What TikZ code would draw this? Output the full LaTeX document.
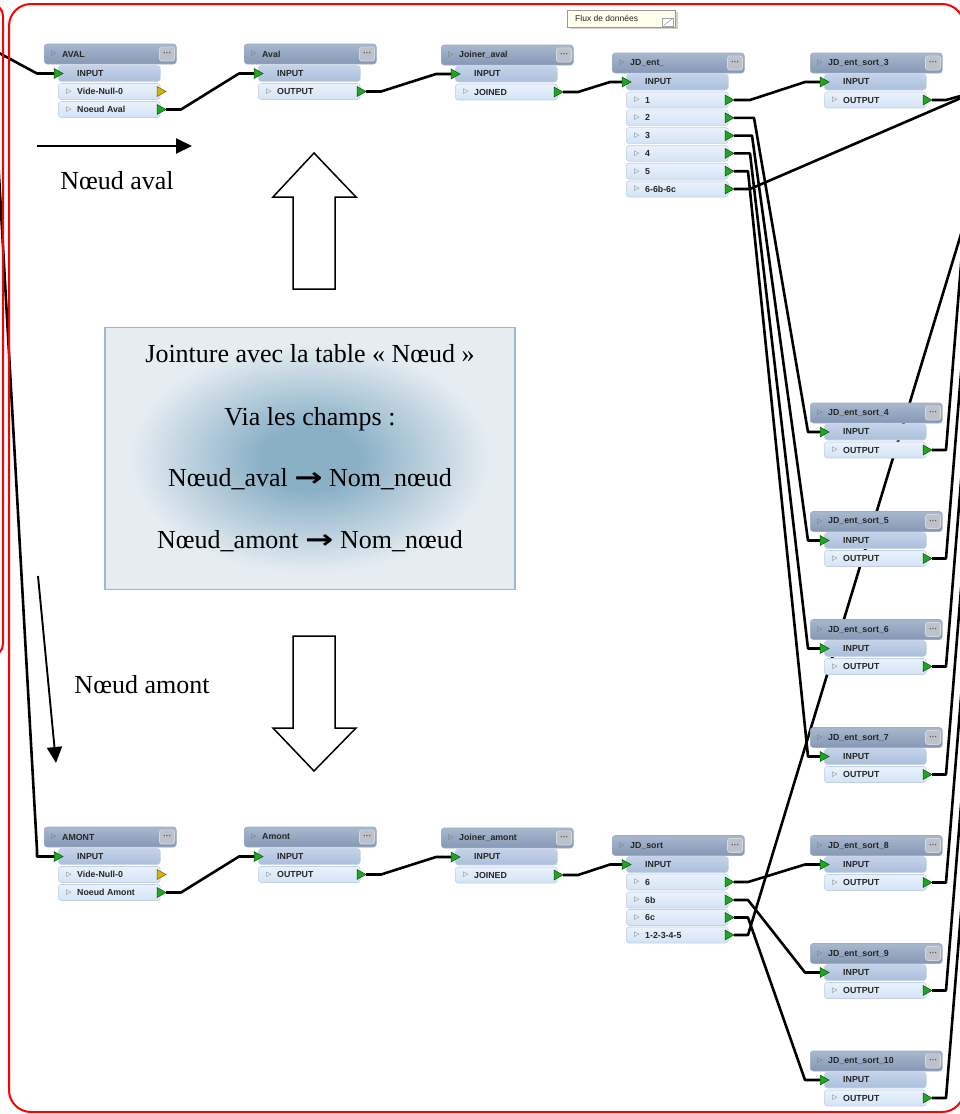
\documentclass[tikz,border=0pt]{standalone}
\usepackage{fontspec}
\setmainfont{Liberation Serif}
\newfontfamily\uisans{Liberation Sans}
\newfontfamily\djv{DejaVu Sans}
\usetikzlibrary{arrows.meta,calc}

\definecolor{hdrtop}{HTML}{A7B8CE}
\definecolor{hdrbot}{HTML}{8598B4}
\definecolor{hdrline}{HTML}{9DACC2}
\definecolor{intop}{HTML}{C3D3E9}
\definecolor{inbot}{HTML}{ABBFDB}
\definecolor{inline}{HTML}{C8D5E6}
\definecolor{outtop}{HTML}{EAF2FC}
\definecolor{outbot}{HTML}{D3E3F5}
\definecolor{rowline}{HTML}{C3D1E2}
\definecolor{dotsfill}{HTML}{BCC1CA}
\definecolor{dotsline}{HTML}{D5D9DF}
\definecolor{dotstxt}{HTML}{5A5F68}
\definecolor{portg}{HTML}{1FA81F}
\definecolor{portgd}{HTML}{0E4F0E}
\definecolor{porty}{HTML}{D0B800}
\definecolor{portyd}{HTML}{6B5E00}
\definecolor{glowc}{HTML}{8AB0C6}
\definecolor{glowe}{HTML}{E6EDF2}
\definecolor{boxline}{HTML}{9CBACE}
\definecolor{fluxfill}{HTML}{FFFFEC}
\definecolor{redline}{HTML}{FF0000}

\pgfdeclareradialshading{glow}{\pgfpoint{0bp}{0bp}}{color(0bp)=(glowc); color(6bp)=(glowc); color(22bp)=(glowe); color(50bp)=(glowe)}

\tikzset{
 hdr/.style={rectangle, rounded corners=3pt, minimum width=132pt, minimum height=20pt, inner sep=0pt, top color=hdrtop, bottom color=hdrbot, draw=hdrline, line width=0.6pt},
 inrow/.style={rectangle, rounded corners=3pt, minimum width=102pt, minimum height=16pt, inner sep=0pt, top color=intop, bottom color=inbot, draw=inline, line width=0.6pt},
 outrow/.style={rectangle, rounded corners=3pt, minimum width=102pt, minimum height=16pt, inner sep=0pt, top color=outtop, bottom color=outbot, draw=rowline, line width=0.6pt},
 lbl/.style={anchor=west, inner sep=0pt, font=\uisans\bfseries\fontsize{8.8}{9}\selectfont, text=black!85},
 tri/.style={anchor=west, inner sep=0pt, font=\djv\fontsize{7}{7}\selectfont, text=black!55},
 dotsbtn/.style={rectangle, rounded corners=2.5pt, minimum width=15pt, minimum height=14pt, inner sep=0pt, fill=dotsfill, draw=dotsline, line width=0.8pt, font=\djv\bfseries\fontsize{7}{7}\selectfont, text=dotstxt},
 wire/.style={line width=2.6pt, black, line join=round},
 gport/.style={fill=portg, draw=portgd, line width=0.5pt},
 yport/.style={fill=porty, draw=portyd, line width=0.5pt},
 serifbig/.style={font=\fontsize{26}{30}\selectfont, inner sep=0pt, anchor=base},
 blockarrow/.style={draw=black, fill=white, line width=1.5pt, line join=miter},
 thinarrow/.style={line width=1.9pt, -{Triangle[length=16pt,width=15pt]}},
 redframe/.style={draw=redline, line width=2pt},
 tbox/.style={rectangle, minimum width=410pt, minimum height=262pt, inner sep=0pt, shade, shading=glow, draw=boxline, line width=1.5pt},
 fluxbox/.style={rectangle, minimum width=108pt, minimum height=17pt, inner sep=0pt, fill=fluxfill, draw=gray!80, line width=0.7pt},
}

% header: id, x0, center y, title
\newcommand\fmehead[4]{%
  \node[hdr, anchor=west] (#1) at (#2,#3) {};
  \node[tri] (#1-tri) at (#2+7,#3) {▷};
  \node[lbl] (#1-lbl) at (#2+18,#3) {#4};
  \node[dotsbtn] (#1-dots) at (#2+123,#3) {···};
}
% input row: id, x0, y
\newcommand\fmein[3]{%
  \node[inrow, anchor=west] (#1-inrow) at (#2+14,#3) {};
  \node[lbl] (#1-inlbl) at (#2+33,#3) {INPUT};
  \coordinate (#1-in) at (#2+10,#3);
  \filldraw[gport] (#1-in) ++(0,-5) -- ++(9,5) -- ++(-9,5) -- cycle;
}
% output row: port id, x0, y, label, port style
\newcommand\fmeout[5]{%
  \node[outrow, anchor=west] (#1-row) at (#2+14,#3) {};
  \node[tri] (#1-tri) at (#2+22,#3) {▷};
  \node[lbl] (#1-lbl) at (#2+33,#3) {#4};
  \coordinate (#1) at (#2+122,#3);
  \filldraw[#5] (#1) ++(-9,-5) -- ++(9,5) -- ++(-9,5) -- cycle;
}
% wire: from, to, stub out, stub in
\newcommand\wirex[4]{\draw[wire] (#1) -- ++(#3,0) -- ($(#2)+(-#4,0)$) -- (#2);}

\begin{document}
\begin{tikzpicture}[x=1pt,y=-1pt]
\useasboundingbox (0,0) rectangle (960,1114);
\fill[white] (0,0) rectangle (960,1114);
\begin{scope}
\clip (0,0) rectangle (960,1114);

% ---------- coordinates for free ends ----------
\coordinate (srcA) at (-12,47);
\coordinate (bendA) at (37,73.5);
\coordinate (srcB) at (-3,140);
\coordinate (bendB) at (37,850);
\coordinate (bendB2) at (37,856.5);
\coordinate (offR1) at (975,92);
\coordinate (offR2) at (975,188);

% ---------- left nodes ----------
\fmehead{avl}{44}{54}{AVAL}
\fmein{avl}{44}{73.5}
\fmeout{avl-o1}{44}{91.5}{Vide-Null-0}{yport}
\fmeout{avl-o2}{44}{109.5}{Noeud Aval}{gport}

\fmehead{aval}{244}{54}{Aval}
\fmein{aval}{244}{73.5}
\fmeout{aval-o1}{244}{91.5}{OUTPUT}{gport}

\fmehead{jav}{441}{55}{Joiner\_aval}
\fmein{jav}{441}{74}
\fmeout{jav-o1}{441}{92}{JOINED}{gport}

\fmehead{amt}{44}{837}{AMONT}
\fmein{amt}{44}{856.5}
\fmeout{amt-o1}{44}{874.5}{Vide-Null-0}{yport}
\fmeout{amt-o2}{44}{892.5}{Noeud Amont}{gport}

\fmehead{amo}{244}{837}{Amont}
\fmein{amo}{244}{856.5}
\fmeout{amo-o1}{244}{874.5}{OUTPUT}{gport}

\fmehead{jam}{441}{838}{Joiner\_amont}
\fmein{jam}{441}{857}
\fmeout{jam-o1}{441}{875}{JOINED}{gport}

% ---------- wires ----------
\draw[wire] (srcA) -- (bendA) -- (avl-in);
\draw[wire] (srcB) -- (bendB) -- (bendB2) -- (amt-in);
\wirex{avl-o2}{aval-in}{15}{15}
\wirex{aval-o1}{jav-in}{15}{15}
\wirex{amt-o2}{amo-in}{15}{15}
\wirex{amo-o1}{jam-in}{15}{15}

\coordinate (jde-in) at (622,82);
\coordinate (jde-o1) at (734,100);
\coordinate (jde-o2) at (734,117.8);
\coordinate (jde-o3) at (734,135.6);
\coordinate (jde-o4) at (734,153.4);
\coordinate (jde-o5) at (734,171.2);
\coordinate (jde-o6) at (734,189);
\coordinate (jds-in) at (622,864.5);
\coordinate (jds-o1) at (734,882);
\coordinate (jds-o2) at (734,900);
\coordinate (jds-o3) at (734,917.5);
\coordinate (jds-o4) at (734,935);
\foreach \n/\hc in {3/63,4/413,5/521.5,6/629.5,7/737.5,8/845.5,9/953.5,10/1061}{
  \coordinate (s\n-in) at (820,\hc+19);
  \coordinate (s\n-o) at (932,\hc+37);
}
\foreach \n/\hc in {4/413,5/521.5,6/629.5,7/737.5,8/845.5,9/953.5,10/1061}{
  \coordinate (r\n) at (963,\hc+37-210);
}

\wirex{jav-o1}{jde-in}{15}{12}
\wirex{jam-o1}{jds-in}{15}{12}
\wirex{jde-o1}{s3-in}{16}{15}
\wirex{jde-o2}{s4-in}{20}{12}
\wirex{jde-o3}{s5-in}{18}{12}
\wirex{jde-o4}{s6-in}{16}{12}
\wirex{jde-o5}{s7-in}{14}{12}
\draw[wire] (jde-o6) -- ++(16,0) -- (offR1);
\draw[wire] (s3-o) -- ++(14,0) -- (offR1);
\wirex{jds-o1}{s8-in}{14}{15}
\wirex{jds-o2}{s9-in}{14}{15}
\wirex{jds-o3}{s10-in}{14}{15}
\draw[wire] (jds-o4) -- ++(14,0) -- (offR2);
\foreach \n in {4,5,6,7,8,9,10}{
  \draw[wire] (s\n-o) -- ++(14,0) -- (r\n);
}

% ---------- JD nodes ----------
\fmehead{jde}{612}{63}{JD\_ent\_}
\fmein{jde}{612}{82}
\fmeout{jde-o1}{612}{100}{1}{gport}
\fmeout{jde-o2}{612}{117.8}{2}{gport}
\fmeout{jde-o3}{612}{135.6}{3}{gport}
\fmeout{jde-o4}{612}{153.4}{4}{gport}
\fmeout{jde-o5}{612}{171.2}{5}{gport}
\fmeout{jde-o6}{612}{189}{6-6b-6c}{gport}

\fmehead{jds}{612}{845.5}{JD\_sort}
\fmein{jds}{612}{864.5}
\fmeout{jds-o1}{612}{882}{6}{gport}
\fmeout{jds-o2}{612}{900}{6b}{gport}
\fmeout{jds-o3}{612}{917.5}{6c}{gport}
\fmeout{jds-o4}{612}{935}{1-2-3-4-5}{gport}

\foreach \n/\hc in {3/63,4/413,5/521.5,6/629.5,7/737.5,8/845.5,9/953.5,10/1061}{
  \fmehead{s\n}{810}{\hc}{JD\_ent\_sort\_\n}
  \fmein{s\n}{810}{\hc+19}
  \fmeout{s\n-o}{810}{\hc+37}{OUTPUT}{gport}
}

% ---------- Flux de donnees note ----------
\fill[gray!35] (570,12) rectangle (678,29);
\node[fluxbox, anchor=north west] (flux) at (567,10) {};
\node[lbl, font=\uisans\fontsize{8.5}{8.5}\selectfont] (fluxt) at (575,18.5) {Flux de données};
\draw[gray!70, line width=0.6pt, fill=white] (662,18) rectangle (673,26);
\draw[gray!70, line width=0.6pt] (664,25) -- (672,19);

% ---------- annotations ----------
\coordinate (naA) at (37,146);
\coordinate (naB) at (192,146);
\draw[thinarrow] (naA) -- (naB);
\node[serifbig] (naval) at (117,189) {Nœud aval};

\coordinate (nmA) at (38,576);
\coordinate (nmB) at (56,763);
\draw[thinarrow] (nmA) -- (nmB);
\node[serifbig] (namont) at (142,693) {Nœud amont};

\draw[blockarrow] (314,153) -- (356,197) -- (335,197) -- (335,289) -- (293,289) -- (293,197) -- (273,197) -- cycle;
\draw[blockarrow] (293,636) -- (335,636) -- (335,728) -- (356,728) -- (314,771) -- (273,728) -- (293,728) -- cycle;

\node[tbox] (tb) at (310,458.5) {};
\node[serifbig] (tb1) at (310,362) {Jointure avec la table « Nœud »};
\node[serifbig] (tb2) at (310,425) {Via les champs :};
\node[serifbig] (tb3) at (310,486) {Nœud\_aval {\djv\bfseries\scalebox{1.3}[1]{→}} Nom\_nœud};
\node[serifbig] (tb4) at (310,548) {Nœud\_amont {\djv\bfseries\scalebox{1.3}[1]{→}} Nom\_nœud};

% ---------- red frames ----------
\draw[redframe, rounded corners=12pt] (-40,4) rectangle (3,656);
\draw[redframe, rounded corners=22pt] (9,4) rectangle (964,1112);

\end{scope}
\end{tikzpicture}
\end{document}
